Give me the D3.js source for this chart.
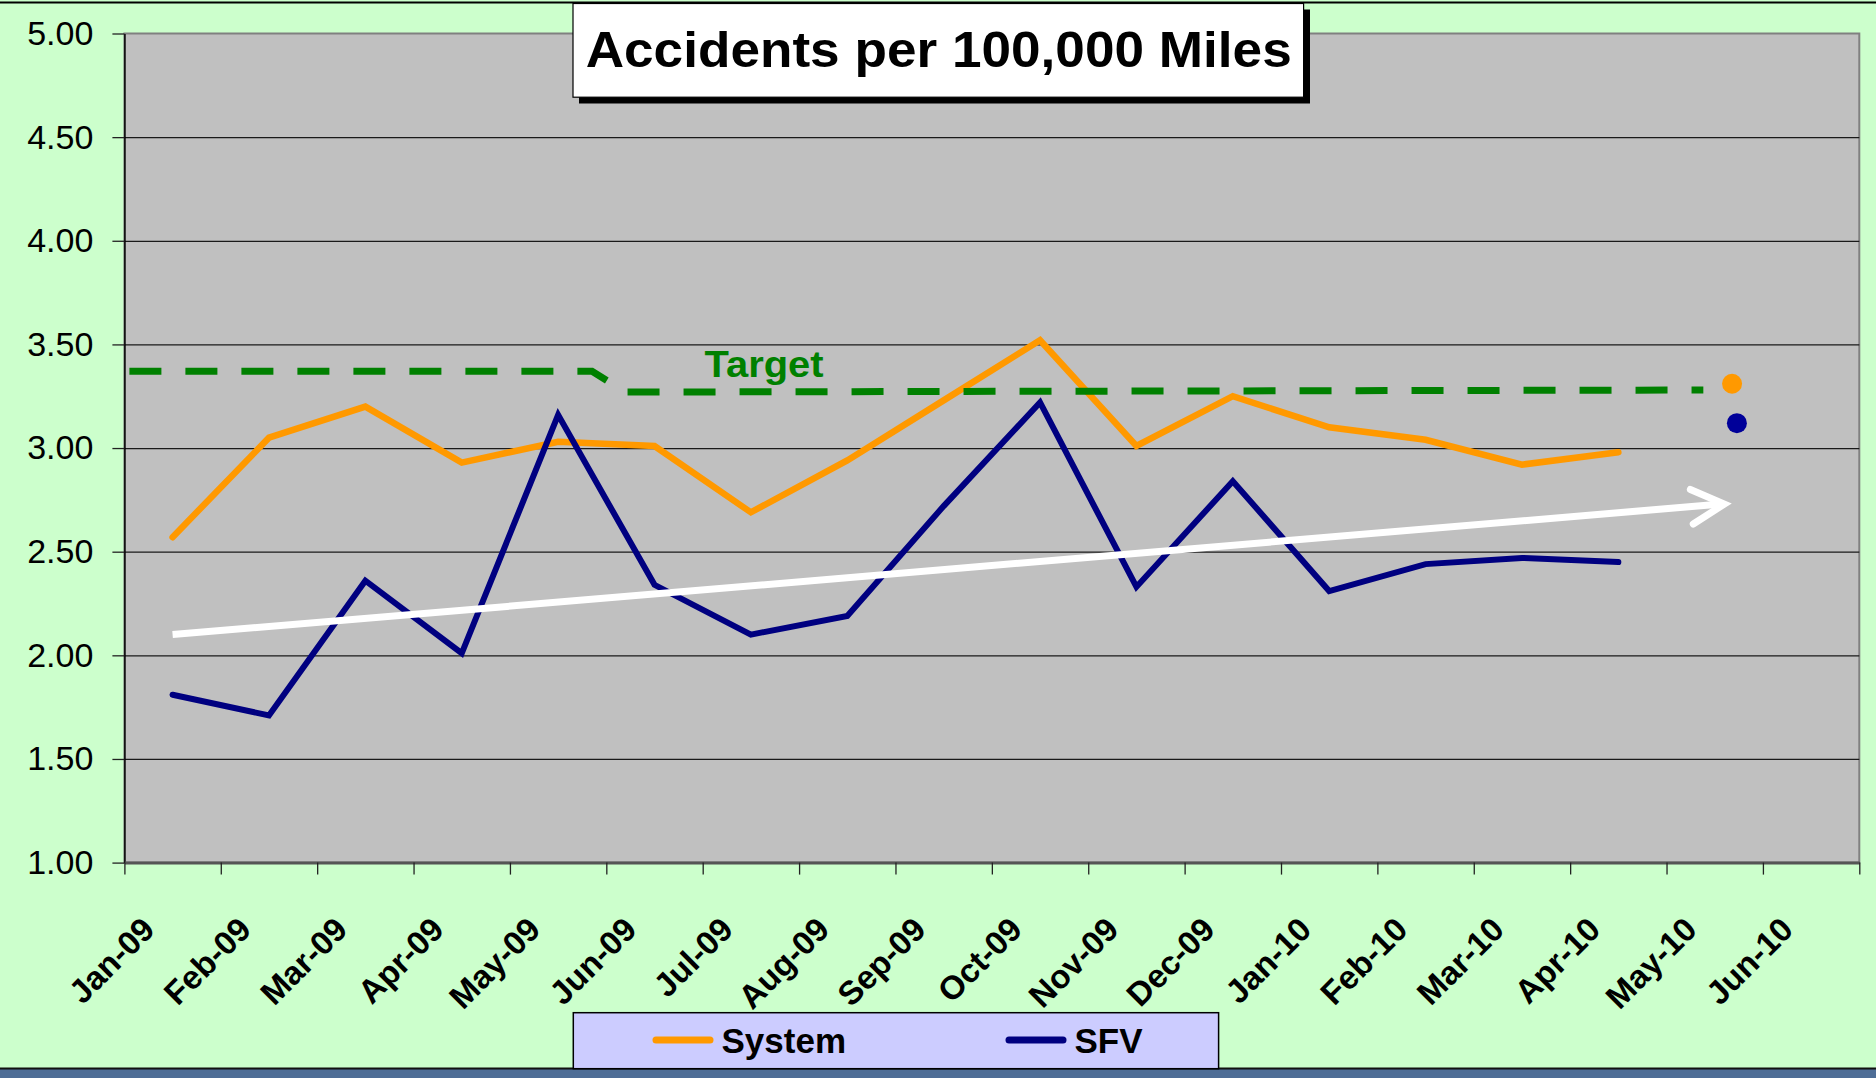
<!DOCTYPE html>
<html>
<head>
<meta charset="utf-8">
<script src="https://cdn.jsdelivr.net/npm/d3@7"></script>
<style>
  body { margin: 0; background: #ccffcc; overflow: hidden; }
  text { font-family: "Liberation Sans", Arial, sans-serif; }
</style>
</head>
<body>
<svg id="chart" width="1876" height="1078"></svg>
<script>
// month categories on the x axis
const months = ["Jan-09", "Feb-09", "Mar-09", "Apr-09", "May-09", "Jun-09", "Jul-09", "Aug-09",
  "Sep-09", "Oct-09", "Nov-09", "Dec-09", "Jan-10", "Feb-10", "Mar-10", "Apr-10", "May-10", "Jun-10"];

// monthly rates, Jan-09 .. Apr-10
const systemValues = [2.57, 3.05, 3.20, 2.93, 3.03, 3.01, 2.69, 2.94, 3.23, 3.52, 3.01, 3.25, 3.10, 3.04, 2.92, 2.98];
const sfvValues = [1.81, 1.71, 2.36, 2.01, 3.16, 2.34, 2.10, 2.19, 2.72, 3.22, 2.33, 2.84, 2.31, 2.44, 2.47, 2.45];

const yTicks = [1.00, 1.50, 2.00, 2.50, 3.00, 3.50, 4.00, 4.50, 5.00];

// target line (position counted in months from the left axis)
const targetPos = [0, 4.8, 5.15, 16.33];
const targetValues = [3.37, 3.37, 3.27, 3.28];

// trend arrow for SFV
const trendPos = [0.5, 16.6];
const trendValues = [2.10, 2.73];

// single markers at the right (System, SFV)
const ytdPos = [16.68, 16.73];
const ytdValues = [3.31, 3.12];

const svg = d3.select("#chart");
const W = 1876, H = 1078;
const margin = { left: 124.4, right: W - 1859.3, top: 33.5, bottom: H - 862.6 };
const width = W - margin.left - margin.right,
  height = H - margin.top - margin.bottom;

const x = d3.scaleLinear().domain([0, months.length]).range([margin.left, margin.left + width]);
const y = d3.scaleLinear().domain([1, 5]).range([margin.top + height, margin.top]);

// background + top rule + bottom band
svg.append("rect").attr("width", W).attr("height", H).attr("fill", "#ccffcc");
svg.append("line").attr("x1", 0).attr("x2", W).attr("y1", 2.5).attr("y2", 2.5)
  .attr("stroke", "#000").attr("stroke-width", 2);
svg.append("rect").attr("x", 0).attr("y", 1068).attr("width", W).attr("height", 10).attr("fill", "#4e6d96");
svg.append("line").attr("x1", 0).attr("x2", W).attr("y1", 1068.5).attr("y2", 1068.5)
  .attr("stroke", "#111").attr("stroke-width", 2);

// plot area
svg.append("rect")
  .attr("x", margin.left).attr("y", margin.top)
  .attr("width", width).attr("height", height)
  .attr("fill", "#c0c0c0").attr("stroke", "#808080").attr("stroke-width", 2);

// gridlines
svg.append("g")
  .attr("transform", "translate(" + margin.left + ",0)")
  .call(d3.axisLeft(y).tickValues(yTicks.slice(1, -1)).tickSize(-width).tickFormat(""))
  .call(g => g.select(".domain").remove())
  .call(g => g.selectAll("line").attr("stroke", "#1a1a1a").attr("stroke-width", 1.3));

// y axis
svg.append("g")
  .attr("transform", "translate(" + margin.left + ",0)")
  .call(d3.axisLeft(y).tickValues(yTicks).tickFormat(d3.format(".2f")).tickSize(12).tickPadding(19).tickSizeOuter(0))
  .call(g => g.select(".domain").attr("stroke", "#000").attr("stroke-width", 1.5))
  .call(g => g.selectAll("line").attr("stroke", "#222").attr("stroke-width", 1.3))
  .call(g => g.selectAll("text").attr("font-size", 34).attr("fill", "#000")
    .style("font-family", "'Liberation Sans', Arial, sans-serif"));

// x axis (ticks between months)
svg.append("g")
  .attr("transform", "translate(0," + (margin.top + height) + ")")
  .call(d3.axisBottom(x).tickValues(d3.range(months.length + 1)).tickFormat("").tickSize(12).tickSizeOuter(0))
  .call(g => g.select(".domain").attr("stroke", "#555").attr("stroke-width", 3))
  .call(g => g.selectAll("line").attr("stroke", "#222").attr("stroke-width", 1.3));

svg.append("g")
  .selectAll("text")
  .data(months)
  .join("text")
  .attr("transform", (d, i) => "translate(" + (x(i + 0.5) - 16) + "," + (margin.top + height + 69) + ") rotate(-45)")
  .attr("text-anchor", "end")
  .attr("font-size", 33)
  .attr("font-weight", "bold")
  .attr("fill", "#000")
  .text(d => d);

// series
const line = d3.line().x(d => x(d[0])).y(d => y(d[1]));

svg.append("path")
  .datum(systemValues.map((v, i) => [i + 0.5, v]))
  .attr("d", line)
  .attr("fill", "none").attr("stroke", "#ff9900").attr("stroke-width", 6.5)
  .attr("stroke-linejoin", "miter").attr("stroke-linecap", "round");

svg.append("path")
  .datum(sfvValues.map((v, i) => [i + 0.5, v]))
  .attr("d", line)
  .attr("fill", "none").attr("stroke", "#000080").attr("stroke-width", 6)
  .attr("stroke-linejoin", "miter").attr("stroke-linecap", "round");

// target
svg.append("path")
  .datum(targetPos.map((p, i) => [p, targetValues[i]]))
  .attr("d", line)
  .attr("fill", "none").attr("stroke", "#008000").attr("stroke-width", 7)
  .attr("stroke-dasharray", "32,24")
  .attr("transform", "translate(5,0)");

svg.append("text")
  .attr("x", 704.6).attr("y", 377.3)
  .attr("font-size", 36).attr("font-weight", "bold").attr("fill", "#008000")
  .attr("textLength", 119).attr("lengthAdjust", "spacingAndGlyphs")
  .text("Target");

// trend arrow
const t0 = [x(trendPos[0]), y(trendValues[0])], t1 = [x(trendPos[1]), y(trendValues[1])];
const ang = Math.atan2(t1[1] - t0[1], t1[0] - t0[0]);
const armLen = 37, armAng = 28 * Math.PI / 180;
svg.append("line")
  .attr("x1", t0[0]).attr("y1", t0[1]).attr("x2", t1[0] - 3).attr("y2", t1[1])
  .attr("stroke", "#fff").attr("stroke-width", 7);
svg.append("path")
  .attr("d", "M" + (t1[0] - armLen * Math.cos(ang - armAng)) + "," + (t1[1] - armLen * Math.sin(ang - armAng)) +
    "L" + t1[0] + "," + t1[1] +
    "L" + (t1[0] - armLen * Math.cos(ang + armAng)) + "," + (t1[1] - armLen * Math.sin(ang + armAng)))
  .attr("fill", "none").attr("stroke", "#fff").attr("stroke-width", 7)
  .attr("stroke-linecap", "round").attr("stroke-linejoin", "miter");

// right-hand markers
svg.append("g")
  .selectAll("circle")
  .data(ytdValues)
  .join("circle")
  .attr("cx", (d, i) => x(ytdPos[i]))
  .attr("cy", d => y(d))
  .attr("r", 10)
  .attr("fill", (d, i) => i === 0 ? "#ff9900" : "#000099");

// title box
svg.append("rect").attr("x", 579).attr("y", 9.5).attr("width", 731).attr("height", 94).attr("fill", "#000");
svg.append("rect").attr("x", 573).attr("y", 3.5).attr("width", 730.6).attr("height", 93.7)
  .attr("fill", "#fff").attr("stroke", "#000").attr("stroke-width", 1.2);
svg.append("text")
  .attr("x", 585.7).attr("y", 66.5)
  .attr("font-size", 50).attr("font-weight", "bold").attr("fill", "#000")
  .attr("textLength", 706).attr("lengthAdjust", "spacingAndGlyphs")
  .text("Accidents per 100,000 Miles");

// legend
const legend = svg.append("g");
legend.append("rect").attr("x", 573.3).attr("y", 1012.7).attr("width", 645.3).attr("height", 56)
  .attr("fill", "#ccccff").attr("stroke", "#000").attr("stroke-width", 1.5);
const legendItems = [
  { name: "System", color: "#ff9900", x: 653 },
  { name: "SFV", color: "#000080", x: 1006 }
];
legendItems.forEach(d => {
  legend.append("line").attr("x1", d.x + 3).attr("x2", d.x + 57).attr("y1", 1040).attr("y2", 1040)
    .attr("stroke", d.color).attr("stroke-width", 7).attr("stroke-linecap", "round");
  legend.append("text").attr("x", d.x + 68.5).attr("y", 1053.3)
    .attr("font-size", 35).attr("font-weight", "bold").attr("fill", "#000")
    .text(d.name);
});
</script>
</body>
</html>
